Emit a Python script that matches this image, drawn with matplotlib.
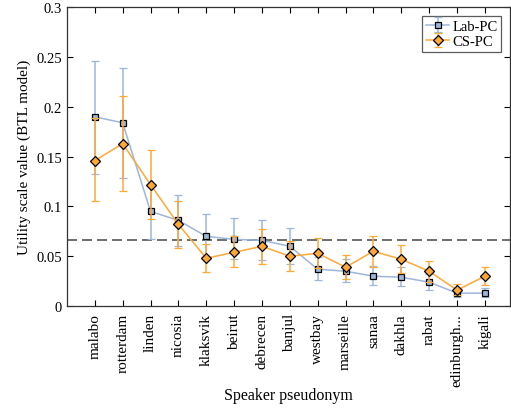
import numpy as np
import matplotlib.pyplot as plt

plt.rcParams['font.family'] = ['Liberation Serif', 'DejaVu Serif']

speakers = ['malabo', 'rotterdam', 'linden', 'nicosia', 'klaksvik', 'beirut', 'debrecen',
            'banjul', 'westbay', 'marseille', 'sanaa', 'dakhla', 'rabat', 'edinburgh...', 'kigali']

# Lab-PC estimates with lower/upper interval bounds
lab = [0.190, 0.184, 0.095, 0.086, 0.070, 0.067, 0.066, 0.060, 0.037, 0.035, 0.030, 0.029, 0.024, 0.013, 0.013]
lab_lo = [0.133, 0.129, 0.067, 0.060, 0.049, 0.047, 0.046, 0.042, 0.026, 0.024, 0.021, 0.020, 0.016, 0.009, 0.009]
lab_hi = [0.246, 0.239, 0.123, 0.112, 0.092, 0.088, 0.086, 0.078, 0.049, 0.047, 0.040, 0.039, 0.032, 0.016, 0.018]

# CS-PC estimates with lower/upper interval bounds
cs = [0.146, 0.163, 0.122, 0.082, 0.048, 0.054, 0.060, 0.050, 0.053, 0.039, 0.055, 0.047, 0.035, 0.016, 0.030]
cs_lo = [0.105, 0.116, 0.087, 0.058, 0.034, 0.039, 0.042, 0.035, 0.038, 0.027, 0.039, 0.033, 0.024, 0.011, 0.021]
cs_hi = [0.189, 0.211, 0.157, 0.105, 0.062, 0.070, 0.077, 0.065, 0.068, 0.051, 0.070, 0.061, 0.045, 0.022, 0.039]

chance = 1 / 15

x = np.arange(1, len(speakers) + 1)
lab = np.array(lab); cs = np.array(cs)
lab_err = [lab - np.array(lab_lo), np.array(lab_hi) - lab]
cs_err = [cs - np.array(cs_lo), np.array(cs_hi) - cs]

blue = '#9db6d9'
orange = '#ffa835'

fig = plt.figure(figsize=(5.11, 4.10), dpi=100)
ax = fig.add_axes([0.131, 0.251, 0.867, 0.729])

ax.axhline(chance, color='#555555', ls=(0, (6, 3)), lw=1.2, zorder=1)
ax.errorbar(x, lab, yerr=lab_err, color=blue, lw=1.1, capsize=3, capthick=1.1,
            marker='s', ms=4.5, mfc=blue, mec='black', mew=0.9, label='Lab-PC', zorder=2)
ax.errorbar(x, cs, yerr=cs_err, color=orange, lw=1.1, capsize=3, capthick=1.1,
            marker='D', ms=5, mfc=orange, mec='black', mew=0.9, label='CS-PC', zorder=3)

ax.set_xlim(0, 15.9)
ax.set_ylim(0, 0.3)
ax.set_xticks(x)
ax.set_xticklabels(speakers, rotation=90, fontsize=11)
ax.set_yticks([0, 0.05, 0.1, 0.15, 0.2, 0.25, 0.3])
ax.set_yticklabels(['0', '0.05', '0.1', '0.15', '0.2', '0.25', '0.3'], fontsize=10.5)
ax.tick_params(direction='in', top=True, right=True, length=4, width=0.8)
ax.tick_params(axis='x', pad=5)
for s in ax.spines.values():
    s.set_linewidth(0.9)
    s.set_color('#333333')

ax.set_xlabel('Speaker pseudonym', fontsize=11.5, labelpad=1)
ax.set_ylabel('Utility scale value (BTL model)', fontsize=11)

leg = ax.legend(loc='upper right', fontsize=10.5, fancybox=False, edgecolor='#333333',
                borderpad=0.25, handlelength=1.6, handletextpad=0.2, labelspacing=0.15,
                borderaxespad=0.6)
leg.get_frame().set_linewidth(0.9)

fig.savefig('out.png', dpi=100)
